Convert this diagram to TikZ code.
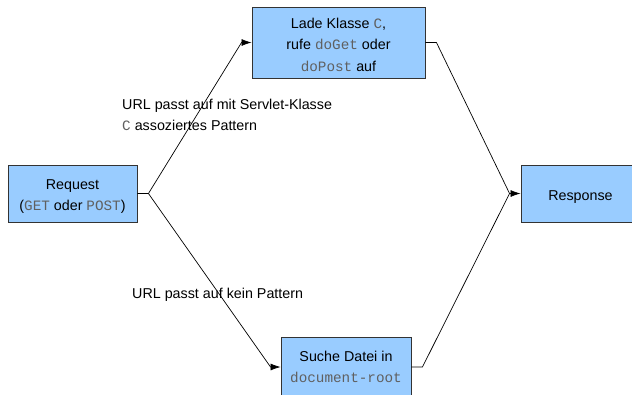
\documentclass[tikz,border=0pt]{standalone}
\usepackage{fontspec}
\setmainfont{Liberation Sans}
\setmonofont{Liberation Mono}
\usetikzlibrary{arrows.meta}
\definecolor{boxfill}{HTML}{99CCFF}
\definecolor{boxline}{HTML}{333333}
\definecolor{codegray}{HTML}{606060}
\newcommand{\code}[1]{{\ttfamily\color{codegray}#1}}
% strut that lowers the text block inside a box
\newcommand{\textdrop}[1]{\rule{0pt}{#1}}
\tikzset{
  stepbox/.style={draw=boxline, line width=0.9pt, fill=boxfill, inner sep=0pt,
    align=center, font=\fontsize{14.3}{21.5}\selectfont},
  conn/.style={draw=black, line width=0.7pt},
  arr/.style={conn, -{Latex[length=10pt,width=7pt]}},
  caption/.style={align=left, inner sep=0pt, font=\fontsize{14.3}{21}\selectfont}
}
\begin{document}
\begin{tikzpicture}[x=1pt,y=-1pt]
  \useasboundingbox (0,0) rectangle (632,394);
  \clip (0,0) rectangle (632,394);

  % boxes
  \node[stepbox, minimum width=129pt, minimum height=57pt] (req) at (72.5,193.5)
    {\textdrop{16pt}Request\\(\code{GET} oder \code{POST})};
  \node[stepbox, minimum width=173pt, minimum height=71pt] (load) at (338.5,42.5)
    {\textdrop{15pt}Lade Klasse \code{C},\\rufe \code{doGet} oder\\\code{doPost} auf};
  \node[stepbox, minimum width=130pt, minimum height=60pt] (file) at (346,367)
    {Suche Datei in\\\code{document-root}};
  \node[stepbox, minimum width=119pt, minimum height=57pt] (resp) at (580.5,193.5)
    {\textdrop{16pt}Response};

  % bend points
  \coordinate (fork) at ([xshift=11pt]req.east);
  \coordinate (loadin) at ([xshift=-10pt]load.west);
  \coordinate (filein) at ([xshift=-10pt]file.west);
  \coordinate (loadout) at ([xshift=11pt]load.east);
  \coordinate (fileout) at ([xshift=11pt]file.east);
  \coordinate (join) at ([xshift=-11pt]resp.west);

  % connectors
  \draw[arr] (req.east) -- (fork) -- (loadin) -- (load.west);
  \draw[arr] (fork) -- (filein) -- (file.west);
  \draw[arr] (load.east) -- (loadout) -- (join) -- (resp.west);
  \draw[conn] (file.east) -- (fileout) -- (join);

  % labels
  \node[caption, anchor=north west] (lblservlet) at (122,98.5)
    {URL passt auf mit Servlet-Klasse\\\code{C} assoziertes Pattern};
  \node[caption, anchor=north west] (lblnone) at (132,287.5)
    {URL passt auf kein Pattern};
\end{tikzpicture}
\end{document}
